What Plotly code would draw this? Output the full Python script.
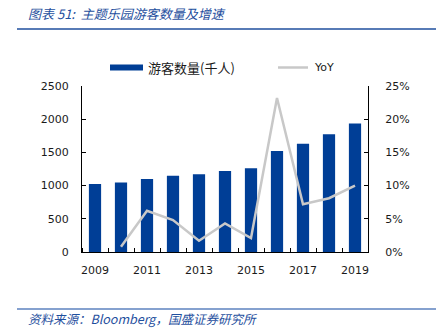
import plotly.graph_objects as go

years = [2009, 2010, 2011, 2012, 2013, 2014, 2015, 2016, 2017, 2018, 2019]
visitors = [1025, 1045, 1100, 1150, 1170, 1220, 1260, 1520, 1630, 1775, 1935]
yoy_years = [2010, 2011, 2012, 2013, 2014, 2015, 2016, 2017, 2018, 2019]
yoy = [0.008, 0.062, 0.048, 0.017, 0.043, 0.021, 0.232, 0.072, 0.081, 0.100]
x_ticks = [2009, 2011, 2013, 2015, 2017, 2019]
y1_ticks = [0, 500, 1000, 1500, 2000, 2500]
y2_ticks = [0, 0.05, 0.10, 0.15, 0.20, 0.25]

BLUE = "#003e96"
GRAY = "#c8c8c8"
TXT = "#1a1a1a"
TITLE_BLUE = "#1f4f9e"
FONT = "DejaVu Sans"

fig = go.Figure()
fig.add_trace(go.Bar(x=years, y=visitors, marker=dict(color=BLUE, line=dict(width=0)),
                     width=0.47, name="游客数量(千人)", showlegend=False))
fig.add_trace(go.Scatter(x=yoy_years, y=yoy, yaxis="y2", mode="lines",
                         line=dict(color=GRAY, width=2.5), name="YoY", showlegend=False))

boundaries = [y - 0.5 for y in years] + [years[-1] + 0.5]

fig.update_layout(
    width=436, height=328,
    margin=dict(l=82, r=68, t=86, b=76),
    paper_bgcolor="white", plot_bgcolor="white",
    font=dict(family=FONT, size=11, color=TXT),
    xaxis=dict(range=[2008.5, 2019.5], tickmode="array", tickvals=x_ticks,
               ticks="", showgrid=False, zeroline=False,
               showline=True, linecolor="black", linewidth=1,
               tickfont=dict(size=11, color=TXT), ticklabelstandoff=8,
               minor=dict(tickmode="array", tickvals=boundaries, ticks="inside",
                          ticklen=4, tickcolor="black", showgrid=False)),
    yaxis=dict(range=[0, 2500], tickmode="array", tickvals=y1_ticks,
               ticks="inside", ticklen=4, tickcolor="black",
               showgrid=False, zeroline=False, showline=True, linecolor="black",
               linewidth=1, tickfont=dict(size=11, color=TXT), ticklabelstandoff=10),
    yaxis2=dict(range=[0, 0.25], overlaying="y", side="right", tickmode="array",
                tickvals=y2_ticks, tickformat=".0%", ticks="inside", ticklen=4,
                tickcolor="black", showgrid=False, zeroline=False, showline=True,
                linecolor="black", linewidth=1, tickfont=dict(size=11, color=TXT),
                ticklabelstandoff=14),
    bargap=0.5,
)

# Title, rules, source
fig.add_annotation(text="<i>图表 51:  主题乐园游客数量及增速</i>", xref="paper", yref="paper",
                   x=(26-82)/286, y=1 + (86-14)/166, xanchor="left", yanchor="middle",
                   showarrow=False, font=dict(size=13, color=TITLE_BLUE, family="Noto Sans CJK SC"))
fig.add_shape(type="line", xref="paper", yref="paper",
              x0=(17-82)/286, x1=(436-82)/286, y0=1 + (86-29)/166, y1=1 + (86-29)/166,
              line=dict(color="#1f4f9e", width=1.5))
fig.add_shape(type="line", xref="paper", yref="paper",
              x0=(17-82)/286, x1=(436-82)/286, y0=-(309-252)/166, y1=-(309-252)/166,
              line=dict(color="#5c82bf", width=1.5))
fig.add_annotation(text="<i>资料来源：Bloomberg，国盛证券研究所</i>", xref="paper", yref="paper",
                   x=(26-82)/286, y=-(318-252)/166, xanchor="left", yanchor="middle",
                   showarrow=False, font=dict(size=12.5, color=TITLE_BLUE, family="Noto Sans CJK SC"))

# Legend
ly = 1 + (86-67.5)/166
fig.add_shape(type="rect", xref="paper", yref="paper",
              x0=(110-82)/286, x1=(143-82)/286, y0=ly - 3/166, y1=ly + 3/166,
              fillcolor=BLUE, line=dict(width=0))
fig.add_annotation(text="游客数量(千人)", xref="paper", yref="paper", x=(146-82)/286, y=ly,
                   xanchor="left", yanchor="middle", showarrow=False,
                   font=dict(size=13, color=TXT, family="Noto Sans CJK SC"))
fig.add_shape(type="line", xref="paper", yref="paper",
              x0=(278-82)/286, x1=(308-82)/286, y0=ly, y1=ly,
              line=dict(color=GRAY, width=2.5))
fig.add_annotation(text="YoY", xref="paper", yref="paper", x=(312-82)/286, y=ly,
                   xanchor="left", yanchor="middle", showarrow=False,
                   font=dict(size=11, color=TXT, family=FONT))

fig.write_html("out.html")
